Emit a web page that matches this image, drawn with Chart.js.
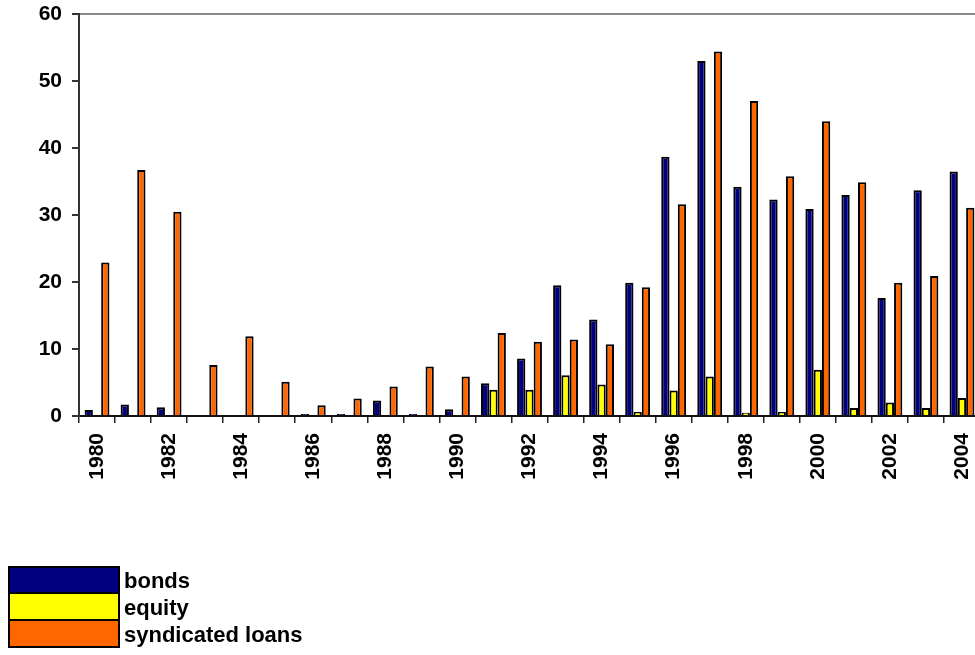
<!DOCTYPE html>
<html>
<head>
<meta charset="utf-8">
<script src="https://cdn.jsdelivr.net/npm/chart.js@4/dist/chart.umd.min.js"></script>
<style>
  html, body { margin: 0; padding: 0; background: #fff; }
  body { width: 975px; height: 655px; overflow: hidden; position: relative; }
  #wrap { position: absolute; left: 0; top: 0; width: 980px; height: 655px; }
  #legend { position: absolute; left: 8px; top: 567px; font: bold 22px "Liberation Sans", Arial, sans-serif; color: #000; }
  .row { display: flex; align-items: center; height: 27px; }
  .sw { width: 108px; height: 25px; border: 2px solid #000; margin-top: -2px; box-sizing: content-box; }
  .row:first-child .sw { margin-top: 0; }
  .lbl { margin-left: 4px; line-height: 27px; }
</style>
</head>
<body>
<div id="wrap"><canvas id="c" width="980" height="655"></canvas></div>
<div id="legend"></div>
<script>
// Years on the category axis
const years = ['1980','1981','1982','1983','1984','1985','1986','1987','1988','1989',
               '1990','1991','1992','1993','1994','1995','1996','1997','1998','1999',
               '2000','2001','2002','2003','2004'];

// Issuance by instrument
const bonds = [0.9, 1.7, 1.3, 0, 0, 0.1, 0.3, 0.3, 2.3, 0.3,
               1.0, 4.9, 8.6, 19.5, 14.4, 19.9, 38.7, 53.0, 34.2, 32.3,
               30.9, 33.0, 17.6, 33.7, 36.5];
const equity = [0, 0, 0, 0, 0, 0, 0, 0, 0, 0,
                0.1, 3.9, 3.9, 6.1, 4.7, 0.6, 3.8, 5.9, 0.5, 0.6,
                6.9, 1.2, 2.0, 1.2, 2.7];
const loans = [22.9, 36.7, 30.5, 7.6, 11.9, 5.1, 1.6, 2.6, 4.4, 7.4,
               5.9, 12.4, 11.1, 11.4, 10.7, 19.2, 31.6, 54.4, 47.0, 35.8,
               44.0, 34.9, 19.9, 20.9, 31.1];

// Value axis ticks
const yTicks = [0, 10, 20, 30, 40, 50, 60];

const seriesNames = ['bonds', 'equity', 'syndicated loans'];
const seriesColors = ['#000080', '#FFFF00', '#FF6600'];
const seriesData = [bonds, equity, loans];

const font = { family: '"Liberation Sans", Arial, sans-serif', size: 21, weight: 'bold' };

const chart = new Chart(document.getElementById('c'), {
  type: 'bar',
  data: {
    labels: years,
    datasets: seriesNames.map((name, i) => ({
      label: name,
      data: seriesData[i],
      backgroundColor: seriesColors[i],
      borderColor: '#000',
      borderWidth: 2,
      borderSkipped: 'start',
      categoryPercentage: 0.69,
      barPercentage: 1.0
    }))
  },
  options: {
    responsive: false,
    animation: false,
    layout: { padding: { top: 14, left: 0, right: 0, bottom: 0 } },
    plugins: { legend: { display: false }, tooltip: { enabled: false } },
    scales: {
      x: {
        grid: {
          offset: true,
          drawOnChartArea: false,
          drawTicks: true,
          tickLength: 7,
          tickColor: '#222',
          lineWidth: 1.5
        },
        border: { display: true, color: '#111', width: 2 },
        ticks: {
          autoSkip: false,
          minRotation: 90,
          maxRotation: 90,
          padding: 10,
          color: '#000',
          font: font,
          callback: function (v, i) { return i % 2 === 0 ? years[i] : ''; }
        },
        afterFit: function (scale) {
          scale.height = 239;
          scale.paddingLeft = 0;
          scale.paddingRight = 0;
        }
      },
      y: {
        min: yTicks[0],
        max: yTicks[yTicks.length - 1],
        afterBuildTicks: function (scale) {
          scale.ticks = yTicks.map(v => ({ value: v }));
        },
        grid: {
          drawOnChartArea: true,
          color: ctx => (ctx.tick && ctx.tick.value === 60 ? '#8a8a8a' : 'rgba(0,0,0,0)'),
          lineWidth: 2,
          tickLength: 7,
          tickColor: '#333'
        },
        border: { display: true, color: '#333', width: 2 },
        ticks: {
          padding: 10,
          color: '#000',
          font: font
        },
        afterFit: function (scale) {
          scale.width = 79;
          scale.paddingTop = 0;
          scale.paddingBottom = 0;
        }
      }
    }
  }
});

// Legend built from the same series names and colours
const legend = document.getElementById('legend');
seriesNames.forEach((name, i) => {
  const row = document.createElement('div');
  row.className = 'row';
  const sw = document.createElement('div');
  sw.className = 'sw';
  sw.style.background = seriesColors[i];
  const lbl = document.createElement('span');
  lbl.className = 'lbl';
  lbl.textContent = name;
  row.appendChild(sw);
  row.appendChild(lbl);
  legend.appendChild(row);
});
</script>
</body>
</html>
